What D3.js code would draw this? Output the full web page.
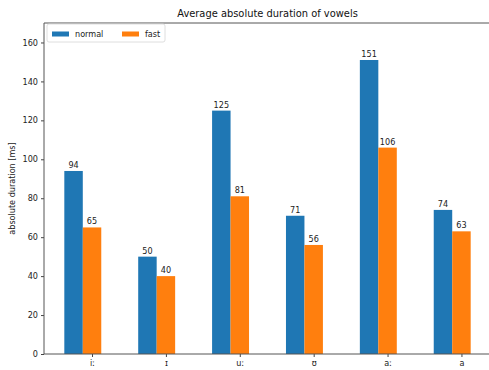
<!DOCTYPE html>
<html>
<head>
<meta charset="utf-8">
<script src="https://cdn.jsdelivr.net/npm/d3@7"></script>
<style>
  html, body { margin: 0; padding: 0; background: #fff; }
  svg { display: block; font-family: "DejaVu Sans", sans-serif; }
</style>
</head>
<body>
<svg id="chart" width="489" height="370"></svg>
<script>
// Vowel categories and average durations (ms) per speaking rate
const vowels = ["iː", "ɪ", "uː", "ʊ", "aː", "a"];
const normal = [94, 50, 125, 71, 151, 74];
const fast = [65, 40, 81, 56, 106, 63];
const seriesNames = ["normal", "fast"];
const seriesColors = ["#1f77b4", "#ff7f0e"];
const yTicks = [0, 20, 40, 60, 80, 100, 120, 140, 160];

const svg = d3.select("#chart");
const margin = { left: 44, right: -2, top: 23, bottom: 16 };
const W = 489, H = 370;
const plotLeft = margin.left, plotRight = W - margin.right;
const plotTop = margin.top, plotBottom = H - margin.bottom;
const fs = "8.1px";

const barW = 0.25;
const x = d3.scaleLinear().domain([-0.65, 5.4]).range([plotLeft, plotRight]);
const y = d3.scaleLinear().domain([0, 170]).range([plotBottom, plotTop]);

const series = [normal, fast];
const g = svg.append("g");

// Bars: "normal" sits one bar-width left of the tick, "fast" centred on it
series.forEach((vals, si) => {
  const offset = si === 0 ? -barW : 0;
  g.selectAll(".bar" + si)
    .data(vals)
    .enter().append("rect")
    .attr("x", (d, i) => x(i + offset - barW / 2))
    .attr("width", x(barW) - x(0))
    .attr("y", d => y(d))
    .attr("height", d => y(0) - y(d))
    .attr("fill", seriesColors[si]);

  g.selectAll(".lbl" + si)
    .data(vals)
    .enter().append("text")
    .attr("x", (d, i) => x(i + offset))
    .attr("y", d => y(d) - 3)
    .attr("text-anchor", "middle")
    .attr("font-size", fs)
    .attr("fill", "#222")
    .text(d => d);
});

// Y axis
const yAxis = d3.axisLeft(y).tickValues(yTicks).tickSize(3).tickPadding(3);
const yg = svg.append("g").attr("transform", `translate(${plotLeft},0)`).call(yAxis);
yg.select(".domain").remove();
yg.selectAll("line").attr("stroke", "#444");
yg.selectAll("text").attr("font-size", fs).attr("fill", "#222").attr("font-family", "DejaVu Sans");

// X axis
const xAxis = d3.axisBottom(x).tickValues(d3.range(vowels.length)).tickFormat(i => vowels[i]).tickSize(3).tickPadding(3);
const xg = svg.append("g").attr("transform", `translate(0,${plotBottom})`).call(xAxis);
xg.select(".domain").remove();
xg.selectAll("line").attr("stroke", "#444");
xg.selectAll("text").attr("font-size", fs).attr("fill", "#222").attr("font-family", "DejaVu Sans");

// Spines
const spine = svg.append("g").attr("stroke", "#555").attr("stroke-width", 1).attr("fill", "none");
spine.append("line").attr("x1", plotLeft).attr("x2", plotLeft).attr("y1", plotTop).attr("y2", plotBottom);
spine.append("line").attr("x1", plotLeft).attr("x2", plotRight).attr("y1", plotBottom).attr("y2", plotBottom);
spine.append("line").attr("x1", plotLeft).attr("x2", plotRight).attr("y1", plotTop).attr("y2", plotTop);
spine.append("line").attr("x1", plotRight).attr("x2", plotRight).attr("y1", plotTop).attr("y2", plotBottom);

// Title
svg.append("text")
  .attr("x", (plotLeft + plotRight) / 2)
  .attr("y", plotTop - 6)
  .attr("text-anchor", "middle")
  .attr("font-size", "9.9px")
  .attr("fill", "#111")
  .text("Average absolute duration of vowels");

// Y axis label
svg.append("text")
  .attr("transform", `translate(15,${(plotTop + plotBottom) / 2}) rotate(-90)`)
  .attr("text-anchor", "middle")
  .attr("font-size", fs)
  .attr("fill", "#222")
  .text("absolute duration [ms]");

// Legend
const lg = svg.append("g").attr("transform", "translate(47,24)");
lg.append("rect")
  .attr("width", 118).attr("height", 18).attr("rx", 2)
  .attr("fill", "rgba(255,255,255,0.8)")
  .attr("stroke", "#d6d6d6").attr("stroke-width", 0.8);
const itemX = [5, 75];
seriesNames.forEach((name, i) => {
  lg.append("rect")
    .attr("x", itemX[i]).attr("y", 7.5)
    .attr("width", 17).attr("height", 5)
    .attr("fill", seriesColors[i]);
  lg.append("text")
    .attr("x", itemX[i] + 23).attr("y", 12.7)
    .attr("font-size", fs)
    .attr("fill", "#222")
    .text(name);
});
</script>
</body>
</html>
